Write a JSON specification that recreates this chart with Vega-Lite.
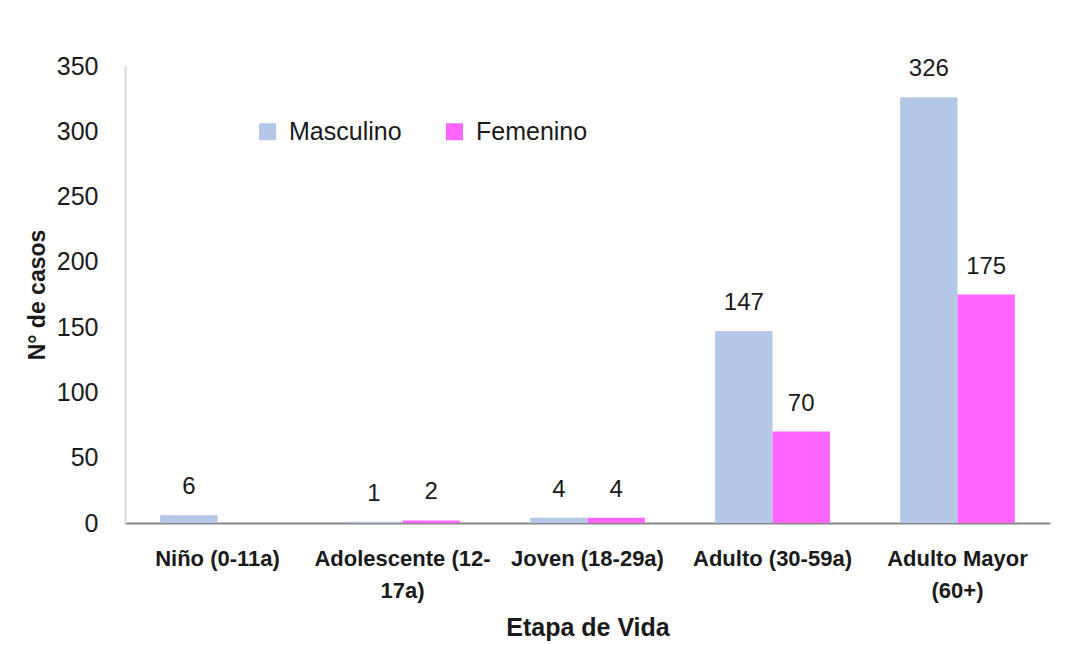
{
  "$schema": "https://vega.github.io/schema/vega-lite/v6.json",
  "autosize": {"type": "none"},
  "width": 925,
  "height": 457,
  "padding": {"left": 125, "top": 66, "right": 25, "bottom": 122},
  "background": "white",
  "config": {
    "view": {"stroke": null},
    "font": "Liberation Sans"
  },
  "data": {
    "values": [
      {"etapa": "Niño (0-11a)", "sexo": "Masculino", "casos": 6},
      {"etapa": "Niño (0-11a)", "sexo": "Femenino", "casos": 0},
      {"etapa": "Adolescente (12-17a)", "sexo": "Masculino", "casos": 1},
      {"etapa": "Adolescente (12-17a)", "sexo": "Femenino", "casos": 2},
      {"etapa": "Joven (18-29a)", "sexo": "Masculino", "casos": 4},
      {"etapa": "Joven (18-29a)", "sexo": "Femenino", "casos": 4},
      {"etapa": "Adulto (30-59a)", "sexo": "Masculino", "casos": 147},
      {"etapa": "Adulto (30-59a)", "sexo": "Femenino", "casos": 70},
      {"etapa": "Adulto Mayor (60+)", "sexo": "Masculino", "casos": 326},
      {"etapa": "Adulto Mayor (60+)", "sexo": "Femenino", "casos": 175}
    ]
  },
  "encoding": {
    "x": {
      "field": "etapa",
      "type": "nominal",
      "sort": null,
      "scale": {"paddingInner": 0.38, "paddingOuter": 0.19},
      "axis": {
        "title": "Etapa de Vida",
        "titleFontSize": 25,
        "titleFontWeight": "bold",
        "titleColor": "#1a1a1a",
        "titlePadding": 14,
        "labelAngle": 0,
        "labelFontSize": 22,
        "labelFontWeight": "bold",
        "labelColor": "#1a1a1a",
        "labelPadding": 25,
        "labelLineHeight": 32,
        "labelExpr": "datum.value == 'Adolescente (12-17a)' ? ['Adolescente (12-', '17a)'] : datum.value == 'Adulto Mayor (60+)' ? ['Adulto Mayor', '(60+)'] : datum.value",
        "ticks": false,
        "domainColor": "#888888",
        "domainWidth": 2
      }
    },
    "xOffset": {"field": "sexo", "type": "nominal", "sort": ["Masculino", "Femenino"], "scale": {"paddingInner": 0, "paddingOuter": 0}},
    "y": {
      "field": "casos",
      "type": "quantitative",
      "scale": {"domain": [0, 350], "nice": false},
      "axis": {
        "title": "N° de casos",
        "titleFontSize": 23,
        "titleFontWeight": "bold",
        "titleColor": "#1a1a1a",
        "titlePadding": 7,
        "values": [0, 50, 100, 150, 200, 250, 300, 350],
        "labelFontSize": 25,
        "labelColor": "#1a1a1a",
        "labelPadding": 27,
        "ticks": false,
        "grid": false,
        "domainColor": "#d9d9d9",
        "domainWidth": 2
      }
    }
  },
  "layer": [
    {
      "mark": {"type": "bar"},
      "encoding": {
        "color": {
          "field": "sexo",
          "type": "nominal",
          "sort": ["Masculino", "Femenino"],
          "scale": {"domain": ["Masculino", "Femenino"], "range": ["#B4C7E7", "#FF66FF"]},
          "legend": {
            "title": null,
            "orient": "none",
            "legendX": 130,
            "legendY": 53,
            "direction": "horizontal",
            "symbolType": "square",
            "symbolSize": 289,
            "symbolStrokeWidth": 0,
            "labelFontSize": 25,
            "labelColor": "#1a1a1a",
            "columnPadding": 40,
            "labelOffset": 9
          }
        }
      }
    },
    {
      "transform": [{"filter": "datum.casos > 0"}],
      "mark": {"type": "text", "baseline": "alphabetic", "dy": -21, "fontSize": 24, "color": "#1a1a1a"},
      "encoding": {
        "text": {"field": "casos", "type": "quantitative"}
      }
    }
  ]
}
